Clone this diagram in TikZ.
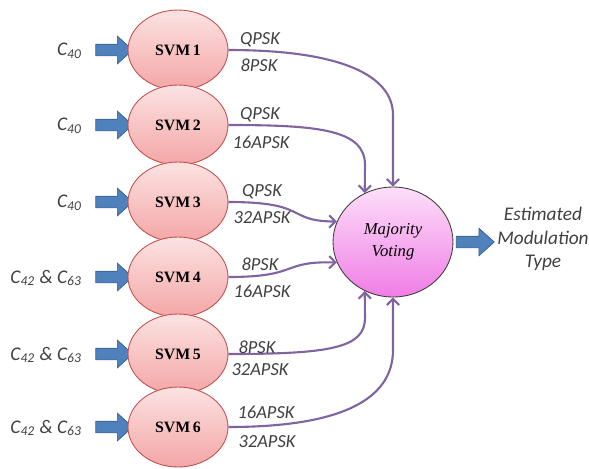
\documentclass[tikz,border=0pt]{standalone}
\usepackage{fontspec}
\setmainfont{Carlito}
\newfontfamily\svmfont{Liberation Serif}
\usepackage{tikz}
\usepackage{xcolor}
\usetikzlibrary{arrows.meta}
\usetikzlibrary{shapes.geometric}
\usetikzlibrary{shapes.arrows}

\definecolor{svmline}{HTML}{C0504D}
\definecolor{svmtop}{HTML}{FCE2E2}
\definecolor{svmbot}{HTML}{F4A6A6}
\definecolor{voteline}{HTML}{3F3F3F}
\definecolor{votetop}{HTML}{FDDFF9}
\definecolor{votebot}{HTML}{F07DE6}
\definecolor{arrowblue}{HTML}{4F81BD}
\definecolor{arrowline}{HTML}{385D8A}
\definecolor{linkpurple}{HTML}{8064A2}
\definecolor{textgray}{HTML}{404040}

\begin{document}
\begin{tikzpicture}[x=0.02cm,y=-0.02cm,
        svm/.style={ellipse, draw=svmline, line width=0.5pt, top color=svmtop, bottom color=svmbot,
            minimum width=2cm, minimum height=1.6cm, inner sep=0pt,
            font=\svmfont\bfseries\fontsize{9}{10}\selectfont},
        blockarrow/.style={single arrow, draw=arrowline, line width=0.4pt, fill=arrowblue,
            inner xsep=0pt, inner ysep=0.11cm, minimum height=0.74cm,
            single arrow head extend=0.16cm, single arrow tip angle=84},
        feat/.style={anchor=east, text=textgray, font=\itshape\fontsize{11}{12}\selectfont},
        cls/.style={text=textgray, inner sep=0pt, font=\itshape\fontsize{10.5}{12}\selectfont},
        link/.style={draw=linkpurple, line width=1.2pt, -{Straight Barb[length=3.5pt,width=7pt]}}]
                \useasboundingbox (0,0) rectangle (589,468);
                % inputs and classifiers
                \node[feat] (c1) at (88,51) {C\textsubscript{40}};
                \node[feat] (c2) at (88,126) {C\textsubscript{40}};
                \node[feat] (c3) at (88,203) {C\textsubscript{40}};
                \node[feat] (c4) at (88,278) {C\textsubscript{42} \& C\textsubscript{63}};
                \node[feat] (c5) at (88,355) {C\textsubscript{42} \& C\textsubscript{63}};
                \node[feat] (c6) at (88,428) {C\textsubscript{42} \& C\textsubscript{63}};
                \node[blockarrow] (a1) at (111,50) {};
                \node[blockarrow] (a2) at (111,125) {};
                \node[blockarrow] (a3) at (111,202) {};
                \node[blockarrow] (a4) at (111,277) {};
                \node[blockarrow] (a5) at (111,354) {};
                \node[blockarrow] (a6) at (111,427) {};
                \node[svm] (s1) at (178,50) {SVM\,1};
                \node[svm] (s2) at (178,125) {SVM\,2};
                \node[svm] (s3) at (178,202) {SVM\,3};
                \node[svm] (s4) at (178,277) {SVM\,4};
                \node[svm] (s5) at (178,354) {SVM\,5};
                \node[svm] (s6) at (178,427) {SVM\,6};
                % voting
                \node[ellipse, draw=voteline, line width=0.5pt, top color=votetop, bottom color=votebot,
                    minimum width=2.4cm, minimum height=2.2cm, align=center,
                    font=\svmfont\itshape\fontsize{9.5}{12.5}\selectfont] (mv) at (393,242) {Majority\\Voting};
                \node[blockarrow, minimum height=0.76cm] (out) at (472,242) {};
                \node[align=center, text=textgray, font=\itshape\fontsize{11}{13.3}\selectfont] (est) at (543,239)
                    {Estimated\\Modulation\\Type};
                % links
                \draw[link] (s1.east) .. controls (340,50) and (393,75) .. (393,115) -- (mv.north);
                \draw[link] (s2.east) .. controls (320,125) and (365,130) .. (365,165) -- (mv.120);
                \draw[link] (s3.east) .. controls (310,202) and (285,221) .. (mv.160);
                \draw[link] (s4.east) .. controls (300,277) and (280,261) .. (mv.200);
                \draw[link] (s5.east) .. controls (330,354) and (365,348) .. (365,318) -- (mv.240);
                \draw[link] (s6.east) .. controls (340,427) and (393,400) .. (393,350) -- (mv.south);
                % class pairs
                \node[cls] (p1a) at (260,40) {QPSK};
                \node[cls] (p1b) at (259,65) {8PSK};
                \node[cls] (p2a) at (260,115) {QPSK};
                \node[cls] (p2b) at (261,142) {16APSK};
                \node[cls] (p3a) at (262,192) {QPSK};
                \node[cls] (p3b) at (262,218) {32APSK};
                \node[cls] (p4a) at (260,264) {8PSK};
                \node[cls] (p4b) at (262,291) {16APSK};
                \node[cls] (p5a) at (257,347) {8PSK};
                \node[cls] (p5b) at (260,370) {32APSK};
                \node[cls] (p6a) at (266,412) {16APSK};
                \node[cls] (p6b) at (267,442) {32APSK};
            \end{tikzpicture}
\end{document}
